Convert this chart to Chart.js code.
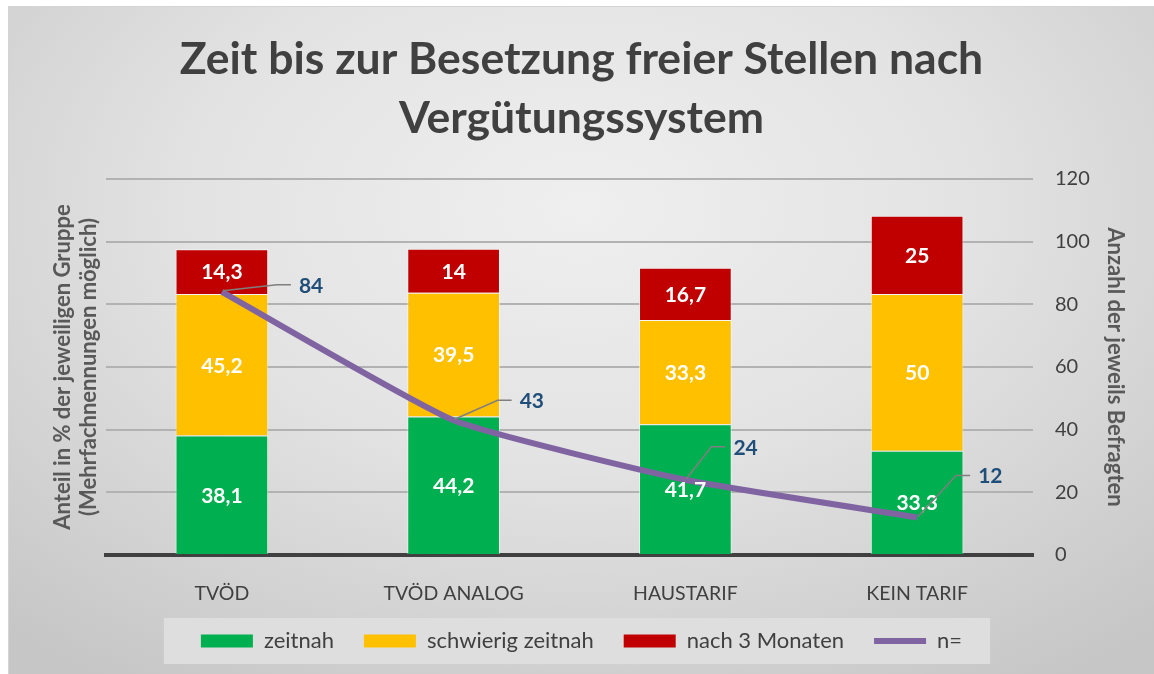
<!DOCTYPE html>
<html>
<head>
<meta charset="utf-8">
<script src="https://cdn.jsdelivr.net/npm/chart.js@4.4.1/dist/chart.umd.min.js"></script>
<style>
  html, body { margin: 0; padding: 0; background: #fff; }
  #wrap {
    position: absolute; left: 8px; top: 6px; width: 1146px; height: 668px;
    background: radial-gradient(ellipse 75% 85% at 50% 30%, #efefef 0%, #e3e3e3 45%, #c6c6c6 100%);
    border-left: 1px solid #d4d4d4; border-top: 1px solid #d4d4d4; box-sizing: border-box;
  }
</style>
</head>
<body>
<div id="wrap"><canvas id="myChart" width="1145" height="667"></canvas></div>
<script>
var categories = ["TVÖD", "TVÖD ANALOG", "HAUSTARIF", "KEIN TARIF"];
var zeitnah = [38.1, 44.2, 41.7, 33.3];
var schwierigZeitnah = [45.2, 39.5, 33.3, 50];
var nach3Monaten = [14.3, 14, 16.7, 25];
var befragte = [84, 43, 24, 12];
var axisTicks = [0, 20, 40, 60, 80, 100, 120];

var FONT = "Lato";
var TEXT = "#404040";

function fmt(v){ return String(v).replace(".", ","); }

// where the n= labels sit relative to their point (dx to label left, dy)
var nLabelOffset = [[77, -7], [66, -20], [48, -33], [61, -42]];

var labelsPlugin = {
  id: "labels",
  beforeDraw: function(chart){
    var lg = chart.legend;
    if (!lg || !lg.legendHitBoxes || !lg.legendHitBoxes.length) return;
    var hb = lg.legendHitBoxes;
    var x0 = hb[0].left - 37;
    var last = hb[hb.length - 1];
    var x1 = last.left + last.width + 28;
    var cy = hb[0].top + hb[0].height / 2;
    var ctx = chart.ctx;
    ctx.save();
    ctx.fillStyle = "#dedede";
    ctx.fillRect(x0, cy - 23, x1 - x0, 46);
    ctx.restore();
  },
  afterDatasetsDraw: function(chart){
    var ctx = chart.ctx;
    ctx.save();
    ctx.textAlign = "center";
    ctx.textBaseline = "middle";
    ctx.font = "bold 21px " + FONT;
    ctx.fillStyle = "#ffffff";
    for (var d = 0; d < 3; d++) {
      var meta = chart.getDatasetMeta(d);
      meta.data.forEach(function(bar, i){
        var v = chart.data.datasets[d].data[i];
        ctx.fillText(fmt(v), bar.x, (bar.y + bar.base) / 2 + 1);
      });
    }
    var lineMeta = chart.getDatasetMeta(3);
    lineMeta.data.forEach(function(pt, i){
      var off = nLabelOffset[i];
      var lx = pt.x + off[0];
      var ly = pt.y + off[1];
      ctx.strokeStyle = "#7f7f7f";
      ctx.lineWidth = 1.5;
      ctx.beginPath();
      ctx.moveTo(pt.x + 1, pt.y - 1);
      ctx.lineTo(lx - 22, ly);
      ctx.lineTo(lx - 8, ly);
      ctx.stroke();
      ctx.fillStyle = "#1f4e79";
      ctx.textAlign = "left";
      ctx.fillText(befragte[i], lx, ly + 1);
    });
    ctx.restore();
  }
};

var ctx = document.getElementById("myChart").getContext("2d");
var myChart = new Chart(ctx, {
  type: "bar",
  data: {
    labels: categories,
    datasets: [
      { label: "zeitnah", data: zeitnah, backgroundColor: "#00b050", borderColor: "rgba(255,255,255,0.55)", borderWidth: 1, yAxisID: "y", order: 1 },
      { label: "schwierig zeitnah", data: schwierigZeitnah, backgroundColor: "#ffc000", borderColor: "rgba(255,255,255,0.55)", borderWidth: 1, yAxisID: "y", order: 1 },
      { label: "nach 3 Monaten", data: nach3Monaten, backgroundColor: "#c00000", borderColor: "rgba(255,255,255,0.55)", borderWidth: 1, yAxisID: "y", order: 1 },
      { type: "line", label: "n=", data: befragte, borderColor: "#8064a2", backgroundColor: "#8064a2", borderWidth: 6, tension: 0.15, pointRadius: 0, yAxisID: "y1", order: 0 }
    ]
  },
  options: {
    responsive: false,
    animation: false,
    barPercentage: 0.4,
    categoryPercentage: 1,
    layout: { padding: { left: 0, right: 0, top: 0, bottom: 12 } },
    plugins: {
      title: {
        display: true,
        text: ["Zeit bis zur Besetzung freier Stellen nach", "Vergütungssystem"],
        color: TEXT,
        font: { family: FONT, size: 44.5, weight: "bold", lineHeight: 59 / 44.5 },
        padding: { top: 23, bottom: 31 }
      },
      legend: {
        position: "bottom",
        labels: {
          color: TEXT,
          font: { family: FONT, size: 22 },
          usePointStyle: true,
          pointStyleWidth: 52,
          boxHeight: 13,
          padding: 30,
          sort: function(a, b){ return a.datasetIndex - b.datasetIndex; },
          generateLabels: function(chart){
            var items = Chart.defaults.plugins.legend.labels.generateLabels(chart);
            items.forEach(function(it){
              it.pointStyle = it.datasetIndex === 3 ? "line" : "rect";
              if (it.datasetIndex < 3) { it.lineWidth = 0; }
            });
            return items;
          }
        }
      },
      tooltip: { enabled: false }
    },
    scales: {
      x: {
        stacked: true,
        grid: { display: false },
        border: { display: true, color: "#404040", width: 4 },
        ticks: { color: TEXT, font: { family: FONT, size: 19.5 }, padding: 19 },
        afterFit: function(s){ s.height = 45; }
      },
      y: {
        stacked: true,
        position: "left",
        min: 0, max: 120,
        afterBuildTicks: function(s){ s.ticks = axisTicks.map(function(v){ return { value: v }; }); },
        ticks: { display: false },
        grid: { color: "#b2b2b2", lineWidth: 2, drawTicks: false },
        border: { display: false },
        title: {
          display: true,
          text: ["Anteil in % der jeweiligen Gruppe", "(Mehrfachnennungen möglich)"],
          color: "#595959",
          font: { family: FONT, size: 22, weight: "bold", lineHeight: 26 / 22 },
          padding: { top: 41, bottom: 0 }
        },
        afterFit: function(s){ s.width = 97; }
      },
      y1: {
        position: "right",
        min: 0, max: 120,
        afterBuildTicks: function(s){ s.ticks = axisTicks.map(function(v){ return { value: v }; }); },
        ticks: { color: TEXT, font: { family: FONT, size: 20 }, padding: 22 },
        grid: { display: false, drawTicks: false },
        border: { display: false },
        title: {
          display: true,
          text: "Anzahl der jeweils Befragten",
          color: "#595959",
          font: { family: FONT, size: 22, weight: "bold", lineHeight: 26 / 22 },
          padding: { top: 26, bottom: 0 }
        },
        afterFit: function(s){ s.width = 121; }
      }
    }
  },
  plugins: [labelsPlugin]
});
</script>
</body>
</html>
